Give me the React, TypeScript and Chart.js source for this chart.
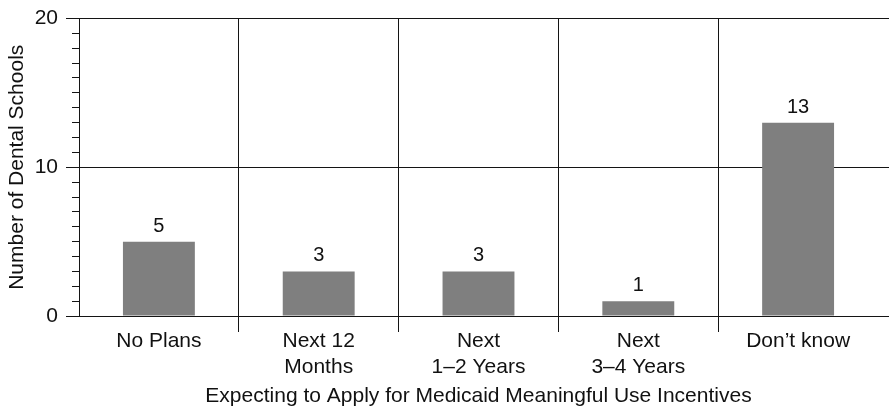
import React, { useEffect, useRef } from "react";
import { Chart, registerables } from "chart.js";

Chart.register(...registerables);

const categories: (string | string[])[] = [
  "No Plans",
  ["Next 12", "Months"],
  ["Next", "1–2 Years"],
  ["Next", "3–4 Years"],
  "Don’t know",
];
const schools = [5, 3, 3, 1, 13];
const yMin = 0;
const yMax = 20;
const yMajorStep = 10;
const yMinorStep = 1;
const xTitle = "Expecting to Apply for Medicaid Meaningful Use Incentives";
const yTitle = "Number of Dental Schools";

const LINE = "#141414";
const BAR = "#7f7f7f";
const TEXT = "#111111";
const FONT = "'Liberation Sans', Arial, Helvetica, sans-serif";
const FS = 21;
const FS_LABEL = 20;

const align = (p: number) => Math.round(p - 0.5) + 0.5;

const extraLines = {
  id: "extraLines",
  afterDraw(chart: any) {
    const y = chart.scales.y;
    const { left, right } = chart.chartArea;
    const ctx = chart.ctx;
    ctx.save();
    ctx.strokeStyle = LINE;
    ctx.lineWidth = 1;
    for (let v = yMin; v <= yMax; v += yMinorStep) {
      if (v % yMajorStep === 0) continue;
      const py = align(y.getPixelForValue(v));
      ctx.beginPath();
      ctx.moveTo(left - 7, py);
      ctx.lineTo(left, py);
      ctx.stroke();
    }
    for (let v = yMin; v <= yMax; v += yMajorStep) {
      const py = align(y.getPixelForValue(v));
      ctx.beginPath();
      ctx.moveTo(right - 1, py);
      ctx.lineTo(chart.width, py);
      ctx.stroke();
    }
    ctx.restore();
  },
};

const barLabels = {
  id: "barLabels",
  afterDatasetsDraw(chart: any) {
    const ctx = chart.ctx;
    const meta = chart.getDatasetMeta(0);
    ctx.save();
    ctx.fillStyle = TEXT;
    ctx.font = `${FS_LABEL}px ${FONT}`;
    ctx.textAlign = "center";
    ctx.textBaseline = "alphabetic";
    meta.data.forEach((bar: any, i: number) => {
      ctx.fillText(String(schools[i]), bar.x, bar.y - 10);
    });
    ctx.restore();
  },
};

export default function App() {
  const ref = useRef<HTMLCanvasElement>(null);

  useEffect(() => {
    if (!ref.current) return;
    const chart = new Chart(ref.current, {
      type: "bar",
      data: {
        labels: categories,
        datasets: [
          {
            data: schools,
            backgroundColor: BAR,
            borderWidth: 0,
            barPercentage: 0.45,
            categoryPercentage: 1,
          },
        ],
      },
      options: {
        responsive: false,
        animation: false,
        devicePixelRatio: 1,
        layout: { padding: { top: 16, right: 11, left: 0, bottom: 0 } },
        plugins: {
          legend: { display: false },
          tooltip: { enabled: false },
        },
        scales: {
          x: {
            offset: true,
            grid: {
              offset: true,
              drawOnChartArea: true,
              drawTicks: true,
              tickLength: 16,
              lineWidth: 1,
              color: (c: any) =>
                typeof c.index === "number" && c.index >= 1 && c.index < categories.length
                  ? LINE
                  : "rgba(0,0,0,0)",
            },
            border: { display: true, color: LINE, width: 1 },
            ticks: {
              color: TEXT,
              font: { family: FONT, size: FS, lineHeight: 1.2 },
              padding: -3,
              maxRotation: 0,
              autoSkip: false,
            },
            title: {
              display: true,
              text: xTitle,
              color: TEXT,
              font: { family: FONT, size: FS, lineHeight: 1.2 },
              padding: { top: 0, bottom: -1 },
            },
            afterFit: (s: any) => {
              s.height = 92;
            },
          },
          y: {
            min: yMin,
            max: yMax,
            grid: {
              color: LINE,
              lineWidth: 1,
              tickLength: 13,
            },
            border: { display: true, color: LINE, width: 1 },
            ticks: {
              stepSize: yMajorStep,
              color: TEXT,
              font: { family: FONT, size: FS, lineHeight: 1 },
              padding: 8,
            },
            title: {
              display: true,
              text: yTitle,
              color: TEXT,
              font: { family: FONT, size: FS, lineHeight: 1.2 },
              padding: { top: 5, bottom: 0 },
            },
            afterFit: (s: any) => {
              s.width = 79;
            },
          },
        },
      },
      plugins: [extraLines, barLabels],
    });
    return () => chart.destroy();
  }, []);

  return (
    <div style={{ position: "absolute", left: 0, top: 0, width: 889, height: 408, background: "#fff" }}>
      <canvas ref={ref} width={889} height={408} style={{ display: "block" }} />
    </div>
  );
}
